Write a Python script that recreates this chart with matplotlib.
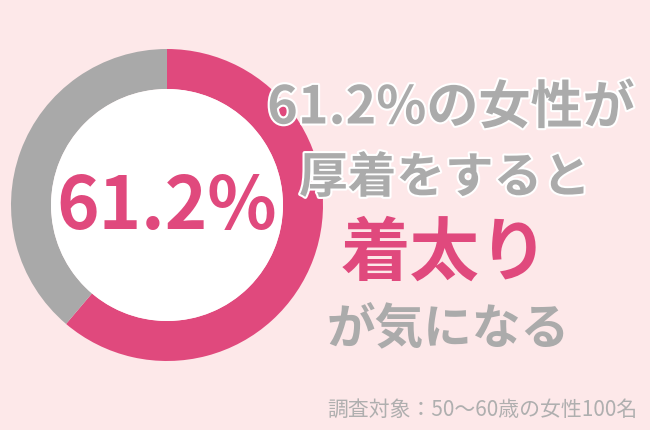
import matplotlib
matplotlib.use("Agg")
import matplotlib.pyplot as plt
from matplotlib.patches import Circle
import matplotlib.patheffects as pe

plt.rcParams['font.family'] = ['Noto Sans CJK JP', 'DejaVu Sans']

labels = ["着太りが気になる", "その他"]
values = [61.2, 38.8]
colors = ["#E0497D", "#A9A9A9"]
center_label = "61.2%"
headline = ["61.2%の女性が", "厚着をすると", "着太り", "が気になる"]
footer = "調査対象：50〜60歳の女性100名"

BG = "#FDE8E9"
GREY_TXT = "#ABABAB"
PINK = "#E0497D"

W, H = 650, 430
fig = plt.figure(figsize=(6.5, 4.3), dpi=100, facecolor=BG)
ax = fig.add_axes([0, 0, 1, 1])
ax.set_facecolor(BG)

cx, cy = 167, H - 205
R, width = 156, 40
ax.pie(values, colors=colors, startangle=90, counterclock=False,
       center=(cx, cy), radius=R, wedgeprops=dict(width=width, linewidth=0))
ax.add_patch(Circle((cx, cy), R - width, facecolor="white", edgecolor="none", zorder=3))

ax.text(cx, H - 208, center_label, ha="center", va="center", fontsize=52,
        fontweight="bold", color=PINK, zorder=4)

stroke = [pe.withStroke(linewidth=3, foreground="white")]
ax.text(451, H - 108, headline[0], ha="center", va="center", fontsize=37.5,
        fontweight="bold", color=GREY_TXT, path_effects=stroke, zorder=5)
ax.text(445, H - 178, headline[1], ha="center", va="center", fontsize=35,
        fontweight="bold", color=GREY_TXT, path_effects=stroke, zorder=5)
ax.text(445, H - 254, headline[2], ha="center", va="center", fontsize=50,
        fontweight="bold", color=PINK, zorder=5)
ax.text(448, H - 330, headline[3], ha="center", va="center", fontsize=35,
        fontweight="bold", color=GREY_TXT, zorder=5)

ax.text(638, H - 410, footer, ha="right", va="center", fontsize=15,
        color="#AFAFAF", zorder=5)

ax.set_xlim(0, W)
ax.set_ylim(0, H)
ax.set_aspect("auto")
ax.axis("off")

fig.savefig("out.png", dpi=100, facecolor=BG)
